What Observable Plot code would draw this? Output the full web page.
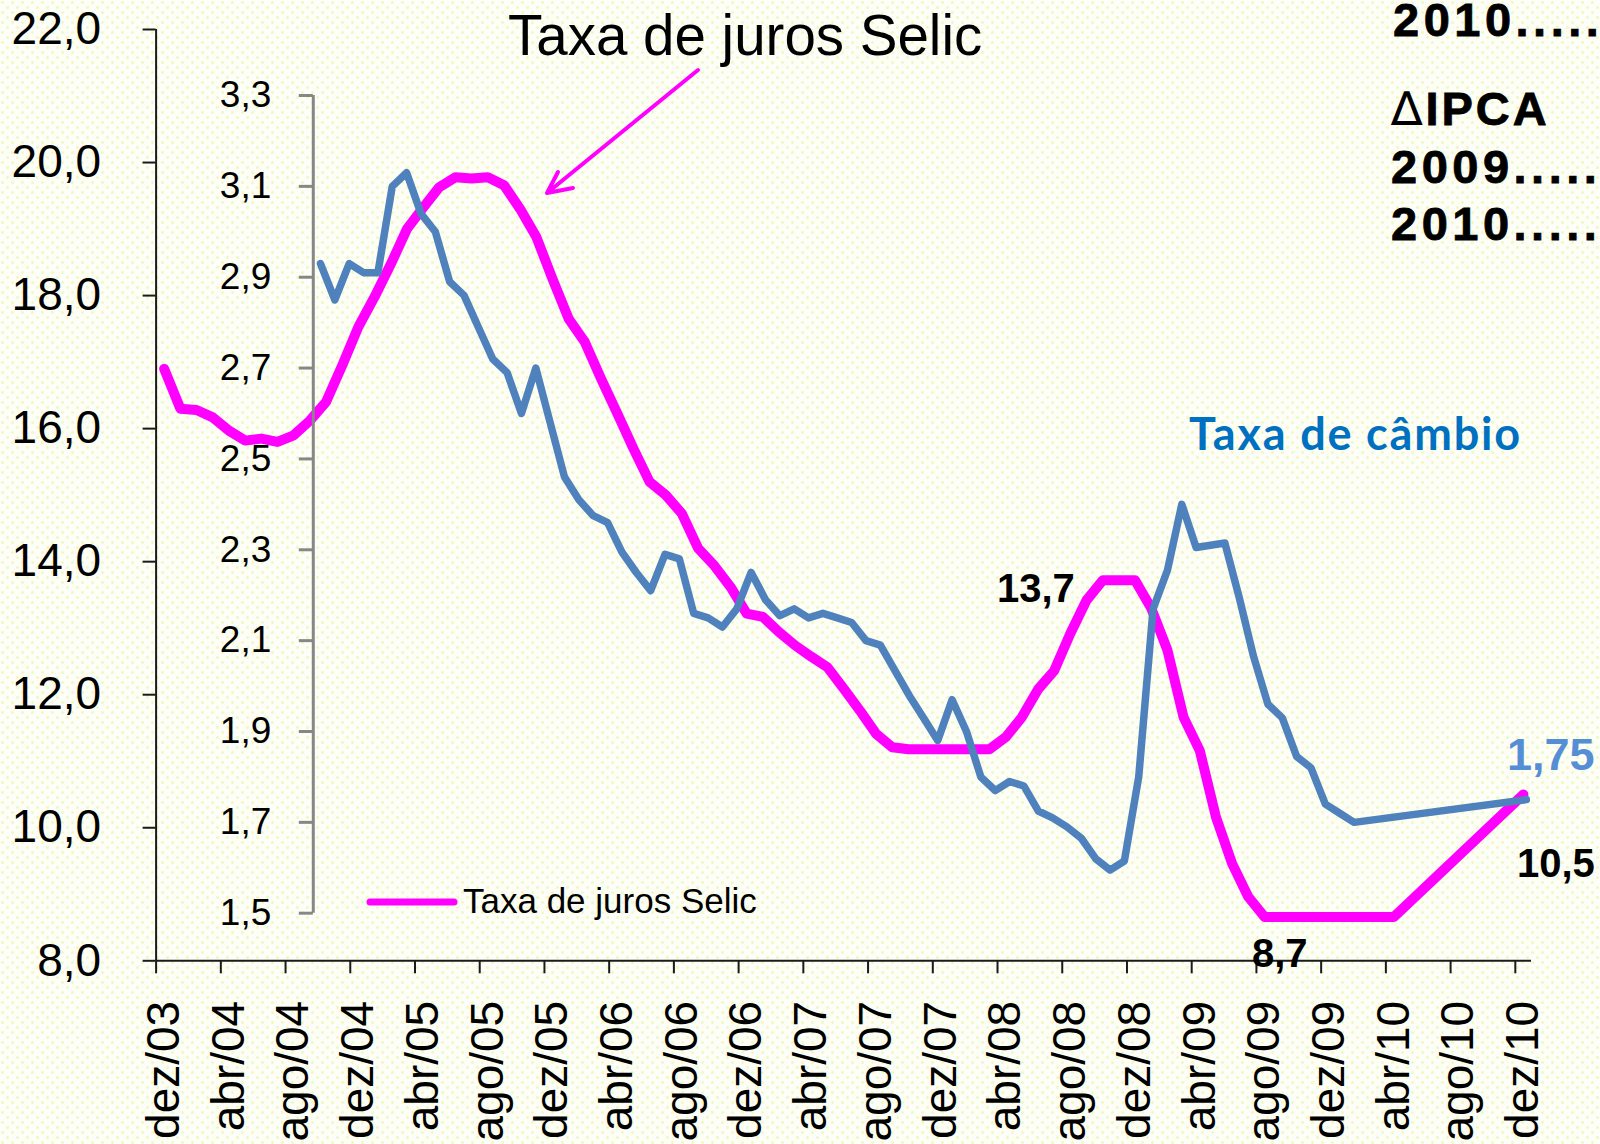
<!DOCTYPE html>
<html>
<head>
<meta charset="utf-8">
<script src="https://cdn.jsdelivr.net/npm/d3@7"></script>
<script src="https://cdn.jsdelivr.net/npm/@observablehq/plot@0.6"></script>
<style>
html, body { margin: 0; padding: 0; }
body {
  width: 1600px; height: 1144px; overflow: hidden;
  background-color: #fefef8;
  background-image:
    radial-gradient(circle at 2.5px 2.5px, #f1f8c2 1.2px, rgba(255,255,255,0) 1.7px),
    radial-gradient(circle at 7.5px 7.5px, #f1f8c2 1.2px, rgba(255,255,255,0) 1.7px);
  background-size: 10px 10px, 10px 10px;
}
#wrap { position: relative; width: 1600px; height: 1144px; }
#wrap svg { position: absolute; left: 0; top: 0; }
</style>
</head>
<body>
<div id="wrap"></div>
<script>
// ---------------- DATA ----------------
const meses = [
  "dez/03",
  "jan/04","fev/04","mar/04","abr/04","mai/04","jun/04","jul/04","ago/04","set/04","out/04","nov/04","dez/04",
  "jan/05","fev/05","mar/05","abr/05","mai/05","jun/05","jul/05","ago/05","set/05","out/05","nov/05","dez/05",
  "jan/06","fev/06","mar/06","abr/06","mai/06","jun/06","jul/06","ago/06","set/06","out/06","nov/06","dez/06",
  "jan/07","fev/07","mar/07","abr/07","mai/07","jun/07","jul/07","ago/07","set/07","out/07","nov/07","dez/07",
  "jan/08","fev/08","mar/08","abr/08","mai/08","jun/08","jul/08","ago/08","set/08","out/08","nov/08","dez/08",
  "jan/09","fev/09","mar/09","abr/09","mai/09","jun/09","jul/09","ago/09","set/09","out/09","nov/09","dez/09",
  "jan/10","fev/10","mar/10","abr/10","mai/10","jun/10","jul/10","ago/10","set/10","out/10","nov/10","dez/10"
];

// x-axis tick labels (every 4 months)
const rotulosX = ["dez/03","abr/04","ago/04","dez/04","abr/05","ago/05","dez/05","abr/06","ago/06","dez/06",
  "abr/07","ago/07","dez/07","abr/08","ago/08","dez/08","abr/09","ago/09","dez/09","abr/10","ago/10","dez/10"];

// left axis ticks (Selic, % a.a.)
const ticksSelic = [8, 10, 12, 14, 16, 18, 20, 22];
// secondary axis ticks (taxa de câmbio, R$/US$)
const ticksCambio = [1.5, 1.7, 1.9, 2.1, 2.3, 2.5, 2.7, 2.9, 3.1, 3.3];

// Taxa de juros Selic (monthly, null = no point)
const selic = [
  16.9,
  16.3, 16.28, 16.17, 15.97, 15.82, 15.85, 15.8, 15.9, 16.12, 16.4, 16.95, 17.53,
  17.98, 18.47, 19.0, 19.32, 19.63, 19.78, 19.76, 19.78, 19.66, 19.3, 18.88, 18.25,
  17.65, 17.3, 16.75, 16.23, 15.7, 15.2, 15.0, 14.72, 14.2, 13.94, 13.62, 13.22,
  13.17, 12.94, 12.74, 12.57, 12.41, 12.09, 11.76, 11.41, 11.21, 11.18, 11.18, 11.18,
  11.18, 11.18, 11.18, 11.36, 11.66, 12.08, 12.36, 12.92, 13.42, 13.72, 13.72, 13.72,
  13.3, 12.67, 11.66, 11.16, 10.16, 9.46, 8.96, 8.66, 8.66, 8.66, 8.66, 8.66,
  8.66, 8.66, 8.66, 8.66, null, null, null, null, null, null, null, 10.5
];

// Taxa de câmbio (monthly, own chart, null = no point)
const cambio = [
  2.93,
  2.85, 2.93, 2.91, 2.91, 3.10, 3.13, 3.04, 3.00, 2.89, 2.86, 2.79, 2.72,
  2.69, 2.60, 2.70, 2.58, 2.46, 2.41, 2.375, 2.36, 2.295, 2.25, 2.21, 2.29,
  2.28, 2.16, 2.15, 2.13, 2.17, 2.25, 2.19, 2.155, 2.17, 2.15, 2.16, 2.15,
  2.14, 2.10, 2.09, 2.035, 1.98, 1.93, 1.88, 1.97, 1.90, 1.80, 1.77, 1.79,
  1.78, 1.725, 1.71, 1.69, 1.665, 1.62, 1.595, 1.615, 1.80, 2.17, 2.255, 2.40,
  2.305, 2.31, 2.315, 2.195, 2.065, 1.96, 1.93, 1.845, 1.82, 1.74, 1.72, 1.70,
  null, null, null, null, null, null, null, null, null, null, null, 1.75
];

// ---------------- CHART ----------------
const FONT = "'Liberation Sans', Arial, Helvetica, sans-serif";
const fmt1 = d => d.toFixed(1).replace(".", ",");
const AXIS = "#1a1a1a";

const selicData = meses.map((m, i) => ({i, m, v: selic[i]})).filter(d => d.v != null);
const cambioData = meses.map((m, j) => ({j, m, v: cambio[j]})).filter(d => d.v != null);

const main = Plot.plot({
  width: 1600, height: 1144,
  marginLeft: 155.6, marginRight: 69, marginTop: 29, marginBottom: 183.7,
  style: {background: "transparent", fontFamily: FONT, overflow: "visible", color: "black"},
  x: {domain: [0, meses.length], label: null},
  y: {domain: [8, 22], label: null},
  marks: [
    Plot.ruleX([0], {stroke: AXIS, strokeWidth: 2}),
    Plot.ruleY([8], {stroke: AXIS, strokeWidth: 2}),
    Plot.axisY(ticksSelic, {tickSize: 13, tickPadding: 42, fontSize: 46, tickFormat: fmt1,
      stroke: AXIS, strokeWidth: 2, fill: "black", label: null}),
    Plot.axisX(rotulosX.map(r => meses.indexOf(r)), {tickSize: 13, fill: "none",
      stroke: AXIS, strokeWidth: 2, label: null}),
    Plot.axisX(rotulosX.map(r => meses.indexOf(r) + 0.5), {tickSize: 0, tickPadding: 40,
      tickRotate: -90, fontSize: 46, fill: "black", label: null,
      tickFormat: d => meses[Math.floor(d)]}),
    Plot.line(selicData, {x: d => d.i + 0.5, y: "v", stroke: "#FF00FF", strokeWidth: 10,
      strokeLinejoin: "round", strokeLinecap: "round"})
  ]
});

const over = Plot.plot({
  width: 1600, height: 1144,
  marginLeft: 312.8, marginRight: 67, marginTop: 95, marginBottom: 231.3,
  style: {background: "transparent", fontFamily: FONT, overflow: "visible", color: "black"},
  x: {domain: [0, cambio.length], axis: null, label: null},
  y: {domain: [1.5, 3.3], label: null},
  marks: [
    Plot.ruleX([0], {stroke: "#878787", strokeWidth: 3}),
    Plot.axisY(ticksCambio, {tickSize: 14, tickPadding: 28, fontSize: 37, tickFormat: fmt1,
      stroke: "#878787", strokeWidth: 3, fill: "black", label: null}),
    Plot.line(cambioData, {x: d => d.j + 0.5, y: "v", stroke: "#4F81BD", strokeWidth: 7.5,
      strokeLinejoin: "round", strokeLinecap: "round"})
  ]
});

const wrap = document.getElementById("wrap");
wrap.appendChild(main);
wrap.appendChild(over);

// ---------------- ANNOTATIONS ----------------
const ann = d3.select(over).append("g")
  .attr("font-family", FONT).attr("text-anchor", "start");

function label(x, y, s, size, weight, fill, extra = {}) {
  const t = ann.append("text").attr("x", x).attr("y", y)
    .attr("text-anchor", "start")
    .attr("font-size", size).attr("font-weight", weight).attr("fill", fill).text(s);
  for (const k in extra) t.attr(k, extra[k]);
  return t;
}

// title + arrow
label(508, 55, "Taxa de juros Selic", 56.5, 400, "black");
ann.append("path")
  .attr("d", "M698,70 L547,193 M558,172 L547,193 L573,188")
  .attr("fill", "none").attr("stroke", "#FF00FF").attr("stroke-width", 4)
  .attr("stroke-linecap", "round").attr("stroke-linejoin", "round");

// series label
label(1189, 450, "Taxa de câmbio", 45, 700, "#0070C0",
  {"font-family": "Lato, 'Open Sans', sans-serif", "letter-spacing": 1.8});

// value labels
label(997, 602, "13,7", 40, 700, "black");
label(1252, 967, "8,7", 40, 700, "black");
label(1517, 877, "10,5", 40, 700, "black");
label(1507, 770, "1,75", 45, 700, "#558ED5");

// IPCA box (top right)
const digOpts = {"letter-spacing": 4.5, "stroke": "black", "stroke-width": 0.8};
const ipcaOpts = {"letter-spacing": 3, "stroke": "black", "stroke-width": 0.8};
label(1393, 36, "2010.....", 47, 700, "black", digOpts);
const ipca = label(1391, 125, "", 47, 700, "black", ipcaOpts);
ipca.append("tspan").attr("font-weight", 400).attr("stroke-width", 0).attr("font-family", "'DejaVu Sans', sans-serif").text("∆");
ipca.append("tspan").text("IPCA");
label(1391, 183, "2009.....", 47, 700, "black", digOpts);
label(1391, 240, "2010.....", 47, 700, "black", digOpts);

// legend
ann.append("line").attr("x1", 370).attr("x2", 454).attr("y1", 902).attr("y2", 902)
  .attr("stroke", "#FF00FF").attr("stroke-width", 7).attr("stroke-linecap", "round");
label(463, 913, "Taxa de juros Selic", 35, 400, "black");
</script>
</body>
</html>
